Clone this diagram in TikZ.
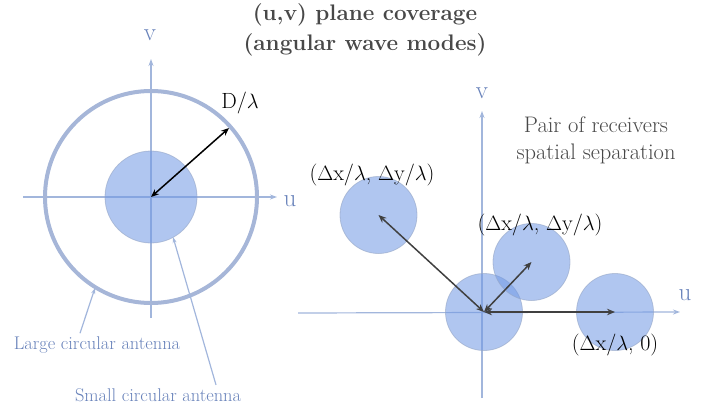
\documentclass[tikz,border=0pt]{standalone}
\definecolor{axisblue}{RGB}{162,182,220}
\definecolor{labelblue}{RGB}{104,130,186}
\definecolor{ringblue}{RGB}{166,182,216}
\definecolor{diskblue}{RGB}{112,152,228}
\definecolor{arrowgray}{RGB}{64,64,64}
\definecolor{titlegray}{RGB}{72,72,72}
\usepackage{tikz}
\usetikzlibrary{arrows.meta, positioning}

\begin{document}
\begin{tikzpicture}[x=1pt, y=-1pt, >={Stealth[length=8pt,width=6.5pt]},
        axis/.style={draw=axisblue, line width=1.2pt, -{Stealth[length=7pt,width=5pt]}},
        axlabel/.style={text=labelblue, inner sep=0pt, font=\fontsize{25}{25}\selectfont},
        disk/.style={circle, draw=diskblue!70!black!60, line width=0.8pt, fill=diskblue, fill opacity=0.55, draw opacity=0.6, inner sep=0pt},
        callout/.style={draw=axisblue, line width=1.2pt, -{Stealth[length=6pt,width=4pt]}},
        calltext/.style={text=labelblue, font=\fontsize{18.4}{20}\selectfont},
        pairarrow/.style={draw=arrowgray, line width=1.5pt, <->},
        coordtext/.style={text=black, font=\fontsize{22}{22}\selectfont}]
        \useasboundingbox (0,0) rectangle (712,409);

        % title
        \node [text=titlegray, align=center, font=\fontsize{22.5}{30}\selectfont\bfseries] (title) at (365,30) {(u,v) plane coverage\\(angular wave modes)};

        % single antenna
        \coordinate (c0) at (151,197);
        \draw [axis] (23,197) -- (277,197);
        \draw [axis] (151,318) -- (151,59);
        \node [axlabel] (u1) at (290,201) {u};
        \node [axlabel] (v1) at (150,35) {v};
        \draw [draw=ringblue, line width=4pt] (c0) circle (106);
        \node [disk, minimum size=92pt] (small) at (c0) {};
        \coordinate (dtip) at (229,128);
        \draw [<->, line width=1.5pt, black] (c0) -- (dtip);
        \node [coordtext] (dlab) at (240,103) {D/$\lambda$};

        \node [calltext] (largelbl) at (97,345) {Large circular antenna};
        \coordinate (ringpt) at (95,288);
        \draw [callout] ([xshift=-17pt]largelbl.north) -- (ringpt);
        \node [calltext] (smalllbl) at (158,395) {Small circular antenna};
        \coordinate (diskpt) at (173,237);
        \draw [callout] ([xshift=58pt]smalllbl.north) -- (diskpt);

        % interferometer pairs
        \draw [axis] (298,313) -- (680,312);
        \draw [axis] (482,398) -- (482,111);
        \node [axlabel] (u2) at (685,295) {u};
        \node [axlabel] (v2) at (482,93) {v};
        \node [disk, minimum size=77pt] (d0) at (484,312) {};
        \node [disk, minimum size=77pt] (d1) at (378.5,215) {};
        \node [disk, minimum size=77pt] (d2) at (531.5,262) {};
        \node [disk, minimum size=77pt] (d3) at (615,312) {};
        \draw [pairarrow] (d0.center) -- (d1.center);
        \draw [pairarrow] (d0.center) -- (d2.center);
        \draw [pairarrow] (d0.center) -- (d3.center);
        \node [coordtext] (l1) at (372,175) {($\Delta$x/$\lambda$, $\Delta$y/$\lambda$)};
        \node [coordtext] (l2) at (540,225) {($\Delta$x/$\lambda$, $\Delta$y/$\lambda$)};
        \node [coordtext] (l3) at (615,345) {($\Delta$x/$\lambda$, 0)};
        \node [text=titlegray, align=center, font=\fontsize{22.5}{27}\selectfont] (note) at (596,140) {Pair of receivers\\spatial separation};
    \end{tikzpicture}
\end{document}
